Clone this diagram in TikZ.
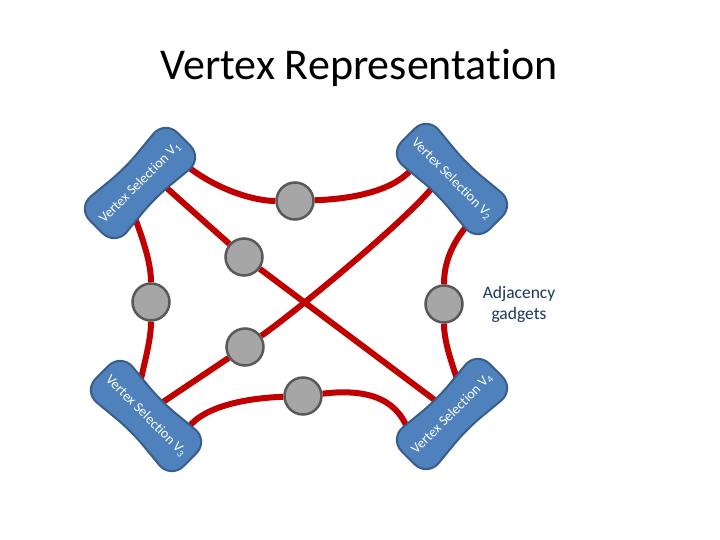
\documentclass[tikz,border=0pt]{standalone}
\usepackage{fontspec}
\setmainfont[Ligatures=NoCommon]{Carlito}
\definecolor{redc}{HTML}{C00000}
\definecolor{gadline}{HTML}{595959}
\definecolor{gadfill}{HTML}{A6A6A6}
\definecolor{blobfill}{HTML}{4F81BD}
\definecolor{blobline}{HTML}{385D8A}
\definecolor{navytxt}{HTML}{17375E}
\newcommand\myblob[4]{%
  \begin{scope}[shift={#1},rotate=#2]
    \path[blobsh] (-62,-27) -- (0,-21) -- (62,-27) -- (62,27) -- (0,21) -- (-62,27) -- cycle;
    \node[blobtxt] (#3) at (0,0) {Vertex Selection V\textsubscript{#4}};
  \end{scope}}
\begin{document}
\begin{tikzpicture}[x=1pt,y=-1pt,
  edge/.style={draw=redc, line width=6pt},
  gad/.style={circle, draw=gadline, fill=gadfill, line width=2.5pt, minimum size=37pt, inner sep=0pt},
  blobsh/.style={fill=blobfill, draw=blobline, line width=2pt, rounded corners=18pt},
  blobtxt/.style={text=white, font=\fontsize{14}{16}\selectfont, transform shape, inner sep=0pt}]
\path[use as bounding box] (0,0) rectangle (720,540);

\node[font=\fontsize{44}{52}\selectfont] (title) at (359,68) {Vertex Representation};
\node[align=center, text=navytxt, font=\fontsize{17.5}{21}\selectfont] (lbl) at (519,304) {Adjacency\\gadgets};

% gadget circles
\node[gad] (cT)  at (295,201) {};
\node[gad] (cUL) at (244,257) {};
\node[gad] (cL)  at (151,302) {};
\node[gad] (cLL) at (245,347) {};
\node[gad] (cB)  at (303,396) {};
\node[gad] (cR)  at (444,304) {};

% attachment points inside the blobs
\coordinate (p1T) at (182,162);
\coordinate (p1D) at (160,182);
\coordinate (p1L) at (135,218);
\coordinate (p2T) at (410,171);
\coordinate (p2D) at (432,188);
\coordinate (p2R) at (470,222);
\coordinate (p3L) at (138,392);
\coordinate (p3D) at (160,404);
\coordinate (p3B) at (188,428);
\coordinate (p4R) at (458,382);
\coordinate (p4D) at (440,404);
\coordinate (p4B) at (410,436);

% connectors
\draw[edge] (p1T) .. controls (215,190) and (255,201) .. (cT);
\draw[edge] (cT) .. controls (350,199) and (390,192) .. (p2T);
\draw[edge] (p1D) -- (cUL) -- (p4D);
\draw[edge] (p2D) .. controls (400,226) and (290,316) .. (cLL);
\draw[edge] (cLL) -- (p3D);
\draw[edge] (p1L) .. controls (145,245) and (151,265) .. (cL);
\draw[edge] (cL) .. controls (151,340) and (145,360) .. (p3L);
\draw[edge] (p2R) .. controls (450,245) and (444,265) .. (cR);
\draw[edge] (cR) .. controls (444,340) and (450,358) .. (p4R);
\draw[edge] (p3B) .. controls (205,405) and (250,398) .. (cB);
\draw[edge] (cB) .. controls (370,388) and (400,400) .. (p4B);

% vertex selection blobs
\myblob{(140,183)}{45}{v1}{1}
\myblob{(452,179)}{-45}{v2}{2}
\myblob{(146,416)}{-45}{v3}{3}
\myblob{(452,414)}{45}{v4}{4}
\end{tikzpicture}
\end{document}
